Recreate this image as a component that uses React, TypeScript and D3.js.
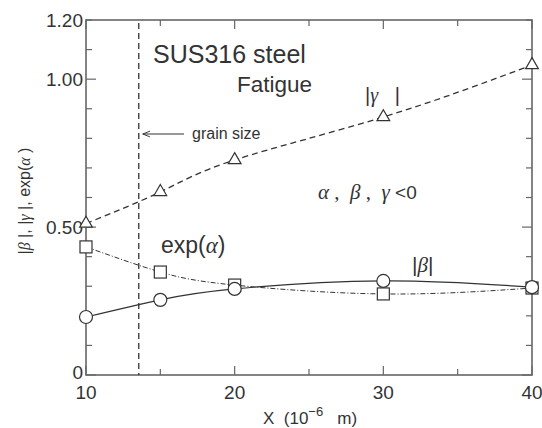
import * as d3 from 'd3';
import React, { useEffect, useRef } from 'react';

// grain size in 10^-6 m
const xs = [10, 15, 20, 30, 40];
const gamma = [0.512, 0.619, 0.727, 0.872, 1.048];
const expAlpha = [0.433, 0.348, 0.304, 0.274, 0.294];
const beta = [0.196, 0.254, 0.291, 0.318, 0.297];
const grainSize = 13.55;
const yTickLabels = [0, 0.5, 1.0, 1.2];
const xTickLabels = [10, 20, 30, 40];

const W = 542, H = 428;
const M = { left: 86, right: 10, top: 20, bottom: 53 };

export default function App() {
    const ref = useRef<SVGSVGElement>(null);

    useEffect(() => {
        const svg = d3.select(ref.current);
        svg.selectAll('*').remove();

        const x = d3.scaleLinear().domain([10, 40]).range([M.left, W - M.right]);
        const y = d3.scaleLinear().domain([0, 1.2]).range([H - M.bottom, M.top]);
        const ink = '#333';
        const font = 'Liberation Sans, Arial, sans-serif';
        const greek = 'Liberation Serif, DejaVu Serif, serif';

        // frame
        svg.append('rect')
            .attr('x', x(10)).attr('y', y(1.2))
            .attr('width', x(40) - x(10)).attr('height', y(0) - y(1.2))
            .attr('fill', 'none').attr('stroke', '#666').attr('stroke-width', 1.6);

        // ticks on all four sides, pointing inward
        const g = svg.append('g').attr('stroke', '#666').attr('stroke-width', 1.2);
        d3.range(0, 1.201, 0.1).forEach(v => {
            const major = Math.abs(v * 2 - Math.round(v * 2)) < 1e-6;
            const len = major ? 10 : 6;
            g.append('line').attr('x1', x(10)).attr('x2', x(10) + len).attr('y1', y(v)).attr('y2', y(v));
            g.append('line').attr('x1', x(40)).attr('x2', x(40) - len).attr('y1', y(v)).attr('y2', y(v));
        });
        d3.range(10, 40.01, 5).forEach(v => {
            const len = v % 10 === 0 ? 9 : 6;
            g.append('line').attr('x1', x(v)).attr('x2', x(v)).attr('y1', y(0)).attr('y2', y(0) - len);
            g.append('line').attr('x1', x(v)).attr('x2', x(v)).attr('y1', y(1.2)).attr('y2', y(1.2) + len);
        });

        // tick labels
        svg.append('g').selectAll('text').data(yTickLabels).enter().append('text')
            .attr('x', x(10) - 3).attr('y', d => y(d) + (d === 0 ? 4 : 7))
            .attr('text-anchor', 'end')
            .attr('font-family', font).attr('font-size', 19).attr('fill', ink)
            .text(d => d === 0 ? '0' : d.toFixed(2));

        svg.append('g').selectAll('text').data(xTickLabels).enter().append('text')
            .attr('x', d => x(d)).attr('y', y(0) + 24)
            .attr('text-anchor', 'middle')
            .attr('font-family', font).attr('font-size', 19).attr('fill', ink)
            .text(d => d);

        // axis titles
        const xl = svg.append('text')
            .attr('x', 263).attr('y', 424)
            .attr('font-family', font).attr('font-size', 17).attr('fill', ink)
            .attr('xml:space', 'preserve');
        xl.append('tspan').text('X  (10');
        xl.append('tspan').attr('dy', -8).attr('font-size', 13).text('−6');
        xl.append('tspan').attr('dy', 8).text('   m)');

        const yl = svg.append('text')
            .attr('transform', `translate(30, 201) rotate(-90)`)
            .attr('text-anchor', 'middle')
            .attr('font-family', font).attr('font-size', 16).attr('fill', ink);
        yl.append('tspan').text('|');
        yl.append('tspan').attr('font-family', greek).attr('font-style', 'italic').text('β');
        yl.append('tspan').text(' |, |');
        yl.append('tspan').attr('font-family', greek).attr('font-style', 'italic').text('γ');
        yl.append('tspan').text(' |, exp(');
        yl.append('tspan').attr('font-family', greek).attr('font-style', 'italic').text('α');
        yl.append('tspan').text(' )');

        // grain size marker
        svg.append('line')
            .attr('x1', x(grainSize)).attr('x2', x(grainSize))
            .attr('y1', y(1.2) + 3).attr('y2', y(0))
            .attr('stroke', ink).attr('stroke-width', 1.3).attr('stroke-dasharray', '6,4');
        svg.append('defs').append('marker')
            .attr('id', 'arr').attr('viewBox', '0 -5 10 10').attr('refX', 10)
            .attr('markerWidth', 7).attr('markerHeight', 6).attr('orient', 'auto')
            .append('path').attr('d', 'M0,-4 L10,0 L0,4').attr('fill', 'none').attr('stroke', ink).attr('stroke-width', 1.3);
        svg.append('line')
            .attr('x1', 184).attr('x2', x(grainSize) + 4).attr('y1', 134).attr('y2', 134)
            .attr('stroke', ink).attr('stroke-width', 1.2).attr('marker-end', 'url(#arr)');
        svg.append('text').attr('x', 192).attr('y', 139)
            .attr('font-family', font).attr('font-size', 16).attr('fill', ink).text('grain size');

        // curves
        const line = d3.line<number>()
            .x((_, i) => x(xs[i])).y(d => y(d))
            .curve(d3.curveNatural);

        const series = [
            { vals: gamma, dash: '6,4', w: 1.3 },
            { vals: expAlpha, dash: '5,2,1,2', w: 1 },
            { vals: beta, dash: null, w: 1.2 },
        ];
        series.forEach(s => {
            svg.append('path').attr('d', line(s.vals))
                .attr('fill', 'none').attr('stroke', ink)
                .attr('stroke-width', s.w)
                .attr('stroke-dasharray', s.dash);
        });

        // markers
        svg.append('g').selectAll('path').data(gamma).enter().append('path')
            .attr('d', d3.symbol(d3.symbolTriangle, 70))
            .attr('transform', (d, i) => `translate(${x(xs[i])},${y(d)})`)
            .attr('fill', 'white').attr('stroke', ink).attr('stroke-width', 1.2);
        svg.append('g').selectAll('rect').data(expAlpha).enter().append('rect')
            .attr('x', (d, i) => x(xs[i]) - 6).attr('y', d => y(d) - 6)
            .attr('width', 12).attr('height', 12)
            .attr('fill', 'white').attr('stroke', ink).attr('stroke-width', 1.2);
        svg.append('g').selectAll('circle').data(beta).enter().append('circle')
            .attr('cx', (d, i) => x(xs[i])).attr('cy', d => y(d)).attr('r', 6.5)
            .attr('fill', 'white').attr('stroke', ink).attr('stroke-width', 1.2);

        // annotations
        svg.append('text').attr('x', 153).attr('y', 63)
            .attr('font-family', font).attr('font-size', 25).attr('fill', ink).text('SUS316 steel');
        svg.append('text').attr('x', 237).attr('y', 92)
            .attr('font-family', font).attr('font-size', 22.5).attr('fill', ink).text('Fatigue');

        const gl = svg.append('text').attr('x', 365).attr('y', 102)
            .attr('font-family', font).attr('font-size', 20).attr('fill', ink)
            .attr('xml:space', 'preserve');
        gl.append('tspan').text('|');
        gl.append('tspan').attr('font-family', greek).attr('font-style', 'italic').text('γ');
        gl.append('tspan').text('   |');

        const cond = svg.append('text').attr('x', 318).attr('y', 199)
            .attr('font-family', greek).attr('font-style', 'italic').attr('font-size', 21).attr('fill', ink)
            .attr('xml:space', 'preserve');
        cond.append('tspan').text('α');
        cond.append('tspan').attr('font-style', 'normal').text(' ,  ');
        cond.append('tspan').text('β');
        cond.append('tspan').attr('font-style', 'normal').text(' ,  ');
        cond.append('tspan').text('γ');
        cond.append('tspan').attr('font-style', 'normal').attr('font-family', font).attr('font-size', 19).text(' <0');

        const el = svg.append('text').attr('x', 161).attr('y', 253)
            .attr('font-family', font).attr('font-size', 23).attr('fill', ink);
        el.append('tspan').text('exp(');
        el.append('tspan').attr('font-family', greek).attr('font-style', 'italic').text('α');
        el.append('tspan').text(')');

        const bl = svg.append('text').attr('x', 412).attr('y', 272)
            .attr('font-family', font).attr('font-size', 21).attr('fill', ink);
        bl.append('tspan').text('|');
        bl.append('tspan').attr('font-family', greek).attr('font-style', 'italic').text('β');
        bl.append('tspan').text('|');
    }, []);

    return (
        <svg ref={ref} width={W} height={H}
            style={{ position: 'absolute', left: 0, top: 0, background: 'white' }} />
    );
}
